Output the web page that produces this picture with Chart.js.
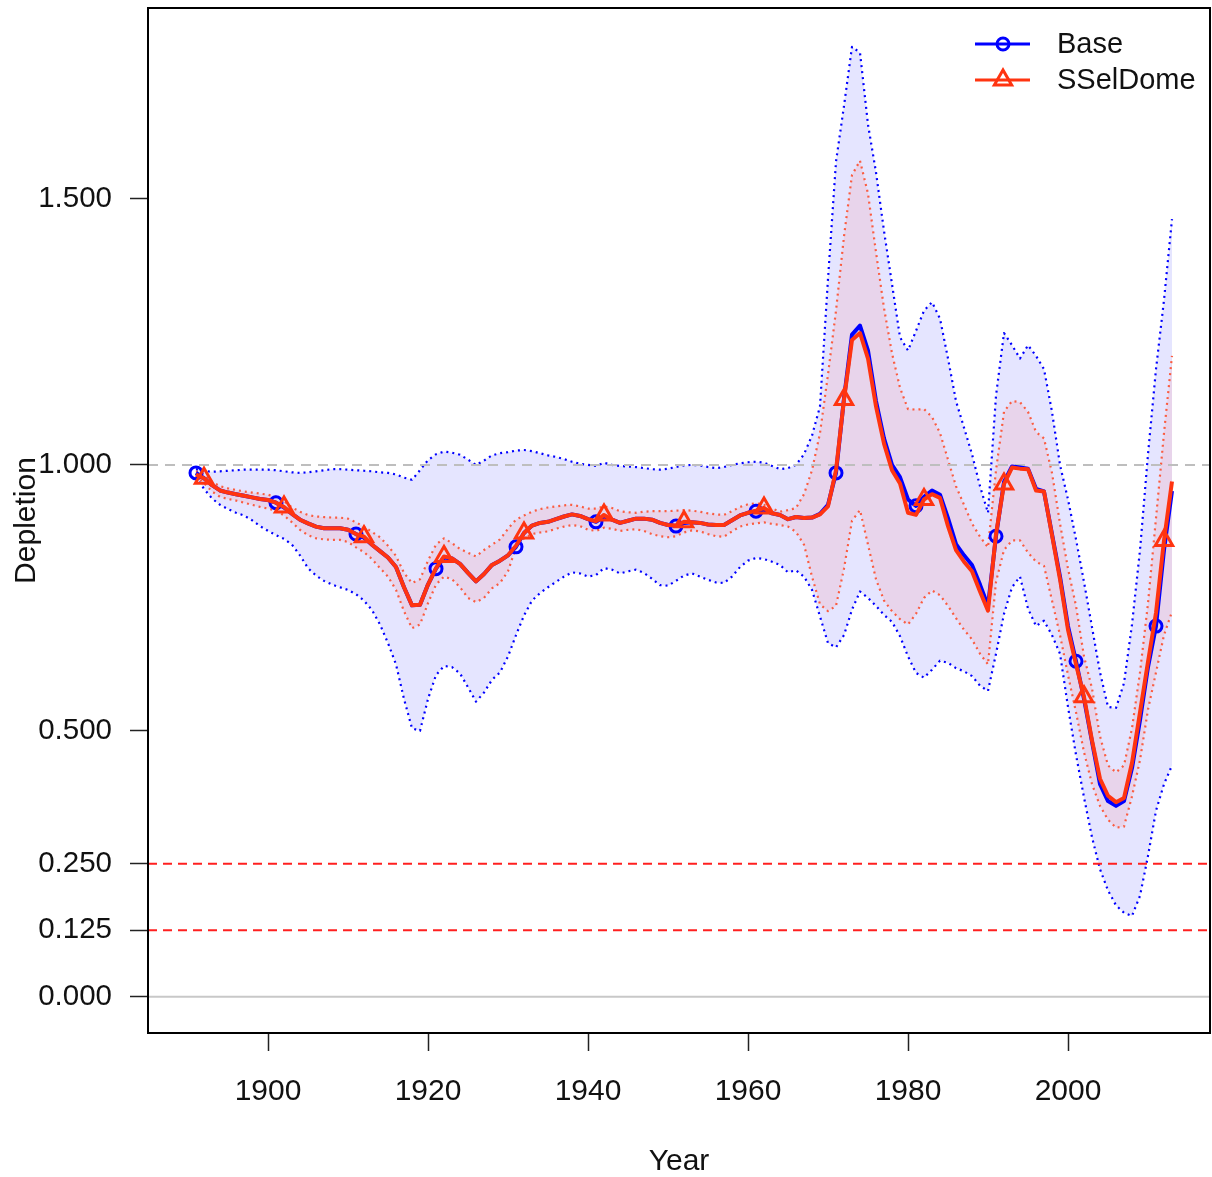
<!DOCTYPE html>
<html>
<head>
<meta charset="utf-8">
<script src="https://cdn.jsdelivr.net/npm/chart.js@4.4.1/dist/chart.umd.min.js"></script>
<style>
  html, body { margin: 0; padding: 0; background: #fff; }
</style>
</head>
<body>
<canvas id="chart" width="1212" height="1177"></canvas>
<script>
// Years 1891..2013, one value per year
const firstYear = 1891
const lastYear = 2013
const years = Array.from({ length: lastYear - firstYear + 1 }, (_, i) => firstYear + i)

// Base run: depletion and its interval
const base = [
    0.985, 0.975, 0.962, 0.952, 0.948, 0.945, 0.942, 0.939, 0.936, 0.934,
    0.929, 0.920, 0.908, 0.897, 0.890, 0.884, 0.881, 0.881, 0.881, 0.878,
    0.870, 0.863, 0.850, 0.838, 0.826, 0.808, 0.770, 0.736, 0.737, 0.775,
    0.805, 0.826, 0.824, 0.814, 0.797, 0.781, 0.795, 0.812, 0.820, 0.830,
    0.846, 0.872, 0.886, 0.891, 0.893, 0.898, 0.903, 0.907, 0.904, 0.898,
    0.893, 0.903, 0.897, 0.891, 0.895, 0.899, 0.899, 0.897, 0.891, 0.887,
    0.885, 0.891, 0.892, 0.891, 0.888, 0.887, 0.887, 0.896, 0.905, 0.910,
    0.913, 0.916, 0.909, 0.906, 0.898, 0.902, 0.900, 0.901, 0.908, 0.925,
    0.985, 1.125, 1.245, 1.262, 1.215, 1.120, 1.050, 1.000, 0.977, 0.935,
    0.923, 0.940, 0.952, 0.944, 0.900, 0.851, 0.830, 0.812, 0.775, 0.735,
    0.866, 0.968, 0.997, 0.995, 0.993, 0.955, 0.950, 0.870, 0.790, 0.697,
    0.631, 0.560, 0.480, 0.400, 0.368, 0.359, 0.368, 0.430, 0.520, 0.620,
    0.697, 0.840, 0.951
]
const baseHi = [
    0.992, 0.989, 0.987, 0.988, 0.989, 0.990, 0.991, 0.991, 0.991, 0.991,
    0.990, 0.988, 0.986, 0.985, 0.986, 0.988, 0.990, 0.992, 0.992, 0.991,
    0.990, 0.989, 0.988, 0.986, 0.985, 0.982, 0.976, 0.972, 0.990, 1.009,
    1.020, 1.025, 1.023, 1.019, 1.010, 1.000, 1.008, 1.018, 1.022, 1.024,
    1.027, 1.028, 1.026, 1.022, 1.018, 1.015, 1.011, 1.006, 1.002, 1.000,
    0.998, 1.004, 1.000, 0.998, 0.997, 0.996, 0.994, 0.992, 0.991, 0.993,
    0.996, 0.999, 1.000, 0.999, 0.996, 0.994, 0.996, 1.000, 1.003, 1.005,
    1.006, 1.004, 0.998, 0.992, 0.994, 1.000, 1.020, 1.055, 1.110, 1.350,
    1.570, 1.675, 1.786, 1.775, 1.640, 1.550, 1.440, 1.340, 1.240, 1.215,
    1.252, 1.290, 1.306, 1.275, 1.200, 1.120, 1.070, 1.020, 0.960, 0.910,
    1.130, 1.248, 1.225, 1.200, 1.225, 1.205, 1.180, 1.100, 1.000, 0.935,
    0.860, 0.780, 0.695, 0.610, 0.545, 0.543, 0.590, 0.700, 0.840, 1.020,
    1.180, 1.310, 1.462
]
const baseLo = [
    0.978, 0.955, 0.937, 0.925, 0.917, 0.910, 0.905, 0.896, 0.885, 0.876,
    0.868, 0.861, 0.850, 0.830, 0.806, 0.792, 0.782, 0.775, 0.770, 0.765,
    0.757, 0.745, 0.727, 0.700, 0.665, 0.625, 0.560, 0.505, 0.500, 0.560,
    0.605, 0.622, 0.620, 0.608, 0.582, 0.555, 0.572, 0.596, 0.610, 0.640,
    0.680, 0.717, 0.745, 0.759, 0.770, 0.780, 0.790, 0.798, 0.796, 0.790,
    0.793, 0.806, 0.803, 0.796, 0.800, 0.803, 0.797, 0.786, 0.774, 0.773,
    0.782, 0.792, 0.796, 0.790, 0.784, 0.779, 0.778, 0.790, 0.808, 0.820,
    0.825, 0.823, 0.818, 0.812, 0.798, 0.802, 0.790, 0.765, 0.715, 0.665,
    0.657, 0.680, 0.728, 0.762, 0.750, 0.735, 0.718, 0.705, 0.678, 0.640,
    0.609, 0.600, 0.615, 0.632, 0.628, 0.618, 0.612, 0.603, 0.585, 0.575,
    0.645, 0.720, 0.770, 0.790, 0.730, 0.697, 0.707, 0.680, 0.645, 0.545,
    0.455, 0.375, 0.300, 0.240, 0.200, 0.172, 0.158, 0.152, 0.190, 0.265,
    0.350, 0.400, 0.435
]

// SSelDome run
const dome = [
    0.982, 0.975, 0.962, 0.952, 0.948, 0.945, 0.942, 0.939, 0.936, 0.934,
    0.929, 0.921, 0.908, 0.897, 0.890, 0.884, 0.881, 0.881, 0.881, 0.878,
    0.870, 0.865, 0.850, 0.838, 0.826, 0.808, 0.770, 0.736, 0.737, 0.775,
    0.806, 0.828, 0.824, 0.814, 0.797, 0.781, 0.795, 0.812, 0.820, 0.830,
    0.848, 0.872, 0.886, 0.891, 0.893, 0.898, 0.903, 0.907, 0.904, 0.898,
    0.894, 0.906, 0.897, 0.891, 0.895, 0.899, 0.899, 0.897, 0.891, 0.887,
    0.886, 0.893, 0.892, 0.891, 0.888, 0.887, 0.887, 0.896, 0.905, 0.910,
    0.914, 0.919, 0.909, 0.906, 0.898, 0.902, 0.900, 0.901, 0.907, 0.922,
    0.990, 1.123, 1.235, 1.248, 1.200, 1.110, 1.040, 0.990, 0.965, 0.910,
    0.906, 0.935, 0.945, 0.938, 0.885, 0.840, 0.818, 0.800, 0.762, 0.726,
    0.870, 0.964, 0.995, 0.993, 0.992, 0.952, 0.950, 0.868, 0.785, 0.690,
    0.625, 0.564, 0.482, 0.410, 0.378, 0.366, 0.374, 0.440, 0.535, 0.630,
    0.722, 0.858, 0.969
]
const domeHi = [
    0.988, 0.982, 0.968, 0.960, 0.956, 0.953, 0.950, 0.948, 0.946, 0.944,
    0.940, 0.932, 0.920, 0.912, 0.906, 0.903, 0.902, 0.901, 0.901, 0.899,
    0.892, 0.884, 0.874, 0.864, 0.848, 0.829, 0.797, 0.778, 0.785, 0.820,
    0.850, 0.862, 0.853, 0.842, 0.835, 0.828, 0.840, 0.850, 0.860, 0.880,
    0.897, 0.905, 0.912, 0.917, 0.920, 0.922, 0.924, 0.925, 0.922, 0.918,
    0.918, 0.922, 0.919, 0.913, 0.911, 0.910, 0.912, 0.913, 0.913, 0.913,
    0.914, 0.915, 0.914, 0.912, 0.909, 0.907, 0.906, 0.913, 0.921, 0.926,
    0.928, 0.925, 0.918, 0.912, 0.915, 0.919, 0.945, 0.990, 1.060, 1.170,
    1.290, 1.430, 1.545, 1.572, 1.510, 1.400, 1.295, 1.210, 1.145, 1.105,
    1.104, 1.105, 1.090, 1.060, 1.010, 0.960, 0.925, 0.890, 0.865, 0.845,
    0.990, 1.100, 1.120, 1.118, 1.100, 1.062, 1.050, 0.985, 0.890, 0.805,
    0.735, 0.640, 0.580, 0.490, 0.435, 0.422, 0.435, 0.505, 0.610, 0.740,
    0.900, 1.060, 1.205
]
const domeLo = [
    0.980, 0.966, 0.950, 0.940, 0.936, 0.933, 0.929, 0.925, 0.921, 0.918,
    0.914, 0.905, 0.892, 0.878, 0.868, 0.862, 0.860, 0.859, 0.859, 0.855,
    0.845, 0.836, 0.823, 0.806, 0.790, 0.765, 0.725, 0.693, 0.700, 0.740,
    0.775, 0.790, 0.785, 0.770, 0.750, 0.742, 0.750, 0.768, 0.778, 0.800,
    0.845, 0.862, 0.870, 0.873, 0.875, 0.880, 0.884, 0.887, 0.885, 0.878,
    0.876, 0.882, 0.880, 0.876, 0.878, 0.879, 0.876, 0.870, 0.866, 0.864,
    0.866, 0.873, 0.877, 0.875, 0.870, 0.866, 0.865, 0.875, 0.884, 0.888,
    0.890, 0.892, 0.889, 0.887, 0.884, 0.874, 0.850, 0.790, 0.738, 0.725,
    0.735, 0.805, 0.895, 0.915, 0.850, 0.785, 0.745, 0.725, 0.710, 0.700,
    0.720, 0.750, 0.764, 0.755, 0.735, 0.712, 0.690, 0.672, 0.645, 0.625,
    0.780, 0.840, 0.858, 0.858, 0.835, 0.818, 0.810, 0.745, 0.680, 0.605,
    0.535, 0.460, 0.400, 0.359, 0.333, 0.318, 0.320, 0.377, 0.445, 0.540,
    0.610, 0.680, 0.724
]

// Axis ticks and reference levels
const yTicks = [0, 0.125, 0.25, 0.5, 1.0, 1.5]
const xTicks = [1900, 1920, 1940, 1960, 1980, 2000]
const xMin = 1885
const xMax = 2017.75
const yMin = -0.068
const yMax = 1.859
const greyLevels = [1.0]
const redLevels = [0.25, 0.125]
const zeroLevels = [0]

// Colours
const blue = '#0000FF'
const red = 'rgb(255,52,16)'
const font = '"Liberation Sans", Arial, sans-serif'

function pts (vals) {
    return vals.map((v, i) => ({ x: years[i], y: v }))
}

function levelLine (level) {
    return [{ x: xMin, y: level }, { x: xMax, y: level }]
}

// Markers every 10 years: Base from 1891, SSelDome from 1892
function markerRadius (offset, r) {
    return ctx => (ctx.raw && (ctx.raw.x - firstYear - offset) % 10 === 0) ? r : 0
}

let datasets = [
    { // Base interval
        data: pts(baseHi), borderColor: blue, borderWidth: 2.2, borderDash: [2, 4],
        pointRadius: 0, fill: '+1', backgroundColor: 'rgba(0,0,255,0.1)', order: 20
    },
    {
        data: pts(baseLo), borderColor: blue, borderWidth: 2.2, borderDash: [2, 4],
        pointRadius: 0, fill: false, order: 19
    },
    { // SSelDome interval
        data: pts(domeHi), borderColor: 'rgba(255,60,20,0.8)', borderWidth: 2.2, borderDash: [2, 4],
        pointRadius: 0, fill: '+1', backgroundColor: 'rgba(255,0,0,0.08)', order: 18
    },
    {
        data: pts(domeLo), borderColor: 'rgba(255,60,20,0.8)', borderWidth: 2.2, borderDash: [2, 4],
        pointRadius: 0, fill: false, order: 17
    }
]

greyLevels.forEach(l => datasets.push({
    data: levelLine(l), borderColor: '#BEBEBE', borderWidth: 2, borderDash: [10, 7],
    pointRadius: 0, fill: false, order: 15
}))
redLevels.forEach(l => datasets.push({
    data: levelLine(l), borderColor: '#FF2020', borderWidth: 2, borderDash: [9, 6],
    pointRadius: 0, fill: false, order: 15
}))
zeroLevels.forEach(l => datasets.push({
    data: levelLine(l), borderColor: '#C8C8C8', borderWidth: 2,
    pointRadius: 0, fill: false, order: 15
}))

datasets.push({
    label: 'Base', data: pts(base), borderColor: blue, borderWidth: 4,
    pointStyle: 'circle', pointRadius: markerRadius(0, 6), pointBorderWidth: 3,
    pointBorderColor: blue, pointBackgroundColor: 'rgba(0,0,0,0)', fill: false, order: 4
})
datasets.push({
    label: 'SSelDome', data: pts(dome), borderColor: red, borderWidth: 4,
    pointStyle: 'triangle', pointRadius: markerRadius(1, 10), pointBorderWidth: 3,
    pointBorderColor: red, pointBackgroundColor: 'rgba(0,0,0,0)', fill: false, order: 2
})

// Frame and legend drawn inside the plot
const frameAndLegend = {
    id: 'frameAndLegend',
    afterDraw (chart) {
        const { ctx, chartArea: a } = chart
        ctx.save()
        ctx.strokeStyle = '#000'
        ctx.lineWidth = 2
        ctx.strokeRect(a.left, a.top, a.right - a.left, a.bottom - a.top)

        const items = [
            { label: 'Base', color: blue, style: 'circle', r: 6, y: a.top + 36 },
            { label: 'SSelDome', color: red, style: 'triangle', r: 10, y: a.top + 72 }
        ]
        ctx.font = '29px ' + font
        ctx.textBaseline = 'middle'
        ctx.textAlign = 'left'
        items.forEach(it => {
            ctx.strokeStyle = it.color
            ctx.lineWidth = 3
            ctx.beginPath()
            ctx.moveTo(a.right - 235, it.y)
            ctx.lineTo(a.right - 180, it.y)
            ctx.stroke()
            ctx.fillStyle = 'rgba(0,0,0,0)'
            Chart.helpers.drawPoint(ctx, { pointStyle: it.style, radius: it.r, borderWidth: 3, rotation: 0 }, a.right - 207, it.y)
            ctx.fillStyle = '#111'
            ctx.fillText(it.label, a.right - 153, it.y + 1)
        })
        ctx.restore()
    }
}

new Chart(document.getElementById('chart'), {
    type: 'line',
    data: { datasets: datasets },
    options: {
        responsive: false,
        devicePixelRatio: 1,
        animation: false,
        layout: { autoPadding: false, padding: { top: 8, right: 2, left: 0, bottom: 0 } },
        elements: { line: { tension: 0, borderJoinStyle: 'round' } },
        plugins: {
            legend: { display: false },
            tooltip: { enabled: false }
        },
        scales: {
            x: {
                type: 'linear',
                min: xMin,
                max: xMax,
                afterBuildTicks: s => { s.ticks = xTicks.map(v => ({ value: v })) },
                afterFit: s => { s.height = 144; s.paddingLeft = 0; s.paddingRight = 0 },
                grid: { drawOnChartArea: false, tickLength: 18, tickColor: '#222', tickWidth: 1.5 },
                border: { display: false },
                ticks: {
                    color: '#111', font: { family: font, size: 30 }, padding: 23,
                    maxRotation: 0, autoSkip: false,
                    callback: v => String(v)
                },
                title: {
                    display: true, text: 'Year', color: '#111',
                    font: { family: font, size: 30 }, padding: { top: 0, bottom: -3 }
                }
            },
            y: {
                type: 'linear',
                min: yMin,
                max: yMax,
                afterBuildTicks: s => { s.ticks = yTicks.map(v => ({ value: v })) },
                afterFit: s => { s.width = 148; s.paddingTop = 0; s.paddingBottom = 0 },
                grid: { drawOnChartArea: false, tickLength: 18, tickColor: '#222', tickWidth: 1.5 },
                border: { display: false },
                ticks: {
                    color: '#111', font: { family: font, size: 29.5 }, padding: 18,
                    autoSkip: false,
                    callback: v => v.toFixed(3)
                },
                title: {
                    display: true, text: 'Depletion', color: '#111',
                    font: { family: font, size: 30 }, padding: { top: 9, bottom: 0 }
                }
            }
        }
    },
    plugins: [frameAndLegend]
})
</script>
</body>
</html>
